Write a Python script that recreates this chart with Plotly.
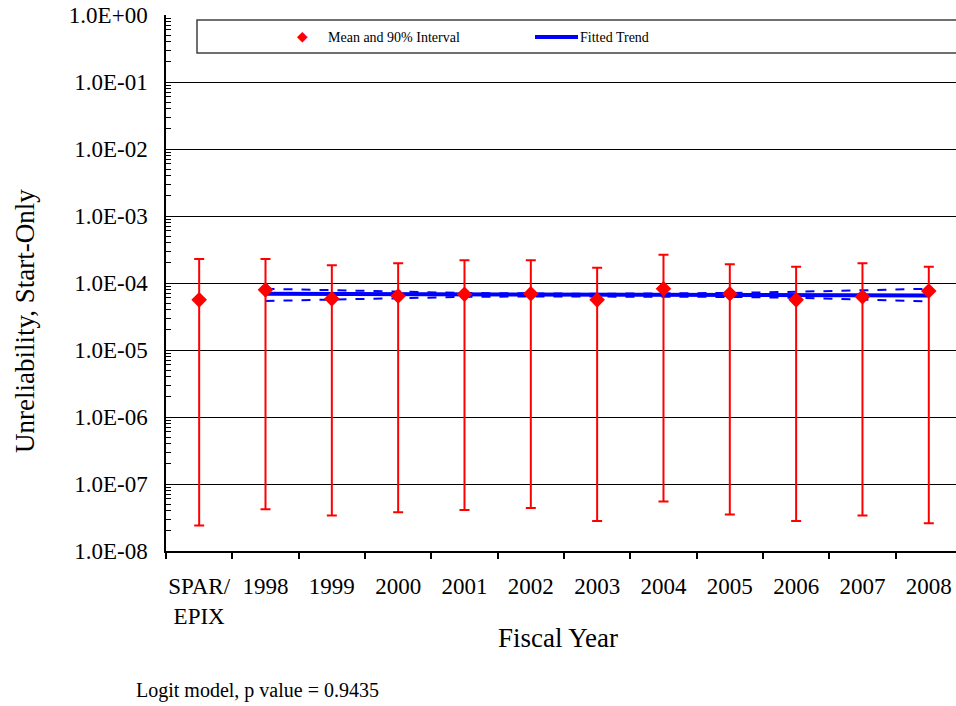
import plotly.graph_objects as go

# ---- data ----
categories = ["SPAR/<br>EPIX", "1998", "1999", "2000", "2001", "2002", "2003",
              "2004", "2005", "2006", "2007", "2008"]
mean_vals = [5.6e-5, 7.9e-5, 5.8e-5, 6.4e-5, 6.8e-5, 6.9e-5, 5.6e-5,
             8.2e-5, 6.9e-5, 5.6e-5, 6.25e-5, 7.6e-5]
upper_vals = [2.28e-4, 2.28e-4, 1.84e-4, 1.97e-4, 2.18e-4, 2.18e-4, 1.69e-4,
              2.64e-4, 1.90e-4, 1.75e-4, 1.97e-4, 1.75e-4]
lower_vals = [2.4e-8, 4.2e-8, 3.4e-8, 3.8e-8, 4.1e-8, 4.4e-8, 2.8e-8,
              5.5e-8, 3.5e-8, 2.8e-8, 3.4e-8, 2.6e-8]

trend_years = ["1998", "1999", "2000", "2001", "2002", "2003",
               "2004", "2005", "2006", "2007", "2008"]
trend_vals = [6.9e-5, 6.85e-5, 6.8e-5, 6.75e-5, 6.7e-5, 6.65e-5,
              6.6e-5, 6.6e-5, 6.55e-5, 6.5e-5, 6.5e-5]
trend_lower = [5.4e-5, 5.7e-5, 6.0e-5, 6.2e-5, 6.3e-5, 6.3e-5,
               6.3e-5, 6.2e-5, 6.0e-5, 5.7e-5, 5.3e-5]
trend_upper = [8.2e-5, 7.8e-5, 7.4e-5, 7.1e-5, 7.0e-5, 6.9e-5,
               7.0e-5, 7.1e-5, 7.4e-5, 7.8e-5, 8.2e-5]

ytick_vals = [1e0, 1e-1, 1e-2, 1e-3, 1e-4, 1e-5, 1e-6, 1e-7, 1e-8]
ytick_text = ["1.0E+00", "1.0E-01", "1.0E-02", "1.0E-03", "1.0E-04",
              "1.0E-05", "1.0E-06", "1.0E-07", "1.0E-08"]

FONT = "Liberation Serif"
W, H = 956, 706
PL, PT, PB = 166, 15, 551  # plot edges in window pixels
L, R, T, B = PL, 0, PT, H - PB
pw, ph = W - L - R, H - T - B


def px(x):
    return (x - PL) / pw


def py(y):
    return (PB - y) / ph


fig = go.Figure()

# fitted trend bounds and line
fig.add_trace(go.Scatter(x=trend_years, y=trend_lower, mode="lines",
                         line=dict(color="#0000FF", width=2, dash="dash"),
                         showlegend=False, hoverinfo="skip"))
fig.add_trace(go.Scatter(x=trend_years, y=trend_upper, mode="lines",
                         line=dict(color="#0000FF", width=2, dash="dash"),
                         showlegend=False, hoverinfo="skip"))
fig.add_trace(go.Scatter(x=trend_years, y=trend_vals, mode="lines",
                         line=dict(color="#0000FF", width=4),
                         name="Fitted Trend", showlegend=False))

# mean and 90% interval
err_plus = [u - m for u, m in zip(upper_vals, mean_vals)]
err_minus = [m - l for m, l in zip(mean_vals, lower_vals)]
fig.add_trace(go.Scatter(
    x=categories, y=mean_vals, mode="markers",
    marker=dict(symbol="diamond", size=12, color="#FF0000"),
    error_y=dict(type="data", symmetric=False, array=err_plus,
                 arrayminus=err_minus, color="#FF0000", thickness=2, width=5),
    name="Mean and 90% Interval", showlegend=False))

# legend box (drawn manually)
shapes = [
    dict(type="rect", xref="paper", yref="paper",
         x0=px(197), x1=1.02, y0=py(53), y1=py(20),
         line=dict(color="#404040", width=1.5), fillcolor="white", layer="above"),
    dict(type="line", xref="paper", yref="paper",
         x0=px(535), x1=px(578), y0=py(37), y1=py(37),
         line=dict(color="#0000FF", width=4), layer="above"),
]
annotations = [
    dict(text="◆", x=px(302), y=py(37), xref="paper", yref="paper",
         showarrow=False, font=dict(family=FONT, size=14, color="#FF0000"),
         xanchor="center", yanchor="middle"),
    dict(text="Mean and 90% Interval", x=px(326), y=py(38), xref="paper", yref="paper",
         showarrow=False, font=dict(family=FONT, size=14, color="black"),
         xanchor="left", yanchor="middle"),
    dict(text="Fitted Trend", x=px(578), y=py(38), xref="paper", yref="paper",
         showarrow=False, font=dict(family=FONT, size=14, color="black"),
         xanchor="left", yanchor="middle"),
    dict(text="Unreliability, Start-Only", x=px(25), y=py(321), xref="paper",
         yref="paper", showarrow=False, textangle=-90,
         font=dict(family=FONT, size=27, color="black"),
         xanchor="center", yanchor="middle"),
    dict(text="Fiscal Year", x=px(558), y=py(638), xref="paper", yref="paper",
         showarrow=False, font=dict(family=FONT, size=27, color="black"),
         xanchor="center", yanchor="middle"),
    dict(text="Logit model, p value = 0.9435", x=px(134), y=py(690), xref="paper",
         yref="paper", showarrow=False, font=dict(family=FONT, size=20, color="black"),
         xanchor="left", yanchor="middle"),
]

fig.update_layout(
    width=W, height=H,
    margin=dict(l=L, r=R, t=T, b=B, pad=0),
    paper_bgcolor="white", plot_bgcolor="white",
    font=dict(family=FONT, color="black"),
    shapes=shapes, annotations=annotations,
    showlegend=False,
)
fig.update_xaxes(
    type="category", categoryorder="array", categoryarray=categories,
    range=[-0.5, 11.41], showgrid=False, showline=True, linecolor="black",
    linewidth=1.5, ticks="outside", tickson="boundaries", ticklen=6,
    tickcolor="black", tickwidth=1.5, tickfont=dict(family=FONT, size=23),
    tickangle=0, ticklabelstandoff=14, zeroline=False, automargin=False,
)
fig.update_yaxes(
    type="log", range=[-8, 0], tickmode="array", tickvals=ytick_vals,
    ticktext=ytick_text, showgrid=True, gridcolor="black", gridwidth=1,
    showline=True, linecolor="black", linewidth=1.5, ticks="inside",
    ticklen=6, tickcolor="black", tickfont=dict(family=FONT, size=23),
    ticklabelstandoff=12, zeroline=False, automargin=False,
    ticklabeloverflow="allow",
    minor=dict(ticks="inside", ticklen=5, tickcolor="black", dtick="D1",
               showgrid=False),
)

fig.write_html(
    "out.html",
    config={"displayModeBar": False},
    post_script="document.body.style.margin='0';document.body.style.overflow='hidden';",
)
